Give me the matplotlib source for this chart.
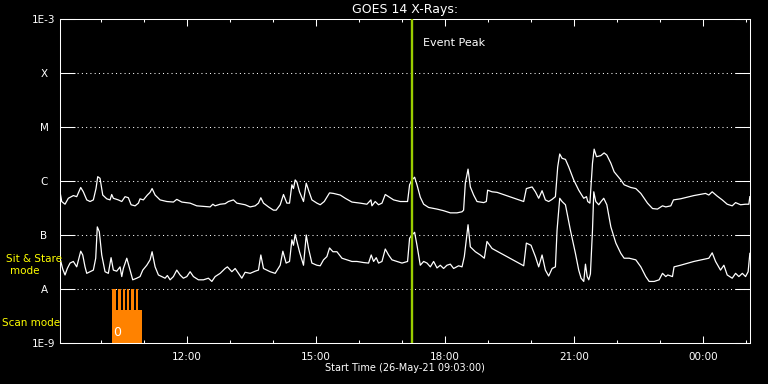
#!/usr/bin/env python3
import numpy as np
import pandas as pd
import matplotlib
matplotlib.use('Agg')
import matplotlib.pyplot as plt
import matplotlib.dates as mdates
from matplotlib.ticker import NullLocator

# * * * * * * * * * * * * * * * * * * * * * * * * * * * * * * * * * * * * * * *

start      =    pd.Timestamp('2021-05-26 09:03:00')
end_min    =    962        # [min] after start
peak_time  =    pd.Timestamp('2021-05-26 17:14:00')

# Data
# ~~~~~~~~~~~~~~~~~~~~~~
#- long channel: minutes after start, log10 flux [W/m^2]
t_long = [
    0, 2.4, 7.0, 11.6, 18.6, 23.3, 28.9, 32.5, 37.3, 41.9,
    46.5, 50.2, 52.6, 55.8, 59.6, 65.2, 69.8, 72.1, 74.4, 81.3,
    86.1, 90.7, 95.3, 99.1, 104.7, 109.3, 111.6, 116.2, 121.8, 125.6,
    128.4, 132.6, 139.5, 148.9, 158.1, 162.8, 169.8, 181.4, 190.7, 209.3,
    213.1, 216.3, 223.3, 230.2, 234.8, 241.8, 246.6, 258.1, 265.1, 272.1,
    276.7, 280.0, 283.7, 290.7, 297.6, 301.4, 307.0, 311.6, 316.3, 320.0,
    323.3, 325.5, 327.9, 330.3, 333.9, 339.5, 343.3, 346.5, 351.2, 358.2,
    362.8, 368.4, 375.8, 381.3, 390.7, 397.7, 407.0, 418.6, 427.9, 433.5,
    434.9, 439.5, 444.1, 448.9, 453.5, 458.1, 465.1, 474.4, 484.6, 487.4,
    490.7, 494.4, 497.7, 502.3, 507.0, 513.9, 525.6, 534.8, 544.2, 553.5,
    560.5, 562.7, 565.1, 568.9, 572.1, 576.7, 581.4, 590.7, 594.4, 596.2,
    602.4, 609.3, 646.5, 650.2, 658.2, 662.8, 667.4, 672.1, 676.7, 681.3,
    686.1, 690.7, 693.9, 696.7, 700.0, 704.7, 709.3, 716.2, 723.2, 730.2,
    734.0, 735.8, 738.8, 742.4, 744.7, 748.0, 754.0, 758.6, 762.4, 768.0,
    772.6, 781.9, 786.5, 795.8, 802.8, 809.8, 819.1, 826.1, 833.0, 840.0,
    844.6, 851.6, 855.3, 865.1, 883.7, 900.0, 904.6, 909.3, 916.3, 923.3,
    930.2, 937.2, 941.9, 948.8, 955.8, 960.4, 961.8
]
log_long = [
    -6.20, -6.38, -6.43, -6.32, -6.27, -6.29, -6.12, -6.20, -6.35, -6.38,
    -6.35, -6.14, -5.92, -5.95, -6.26, -6.33, -6.35, -6.25, -6.32, -6.35,
    -6.38, -6.29, -6.31, -6.44, -6.46, -6.41, -6.33, -6.35, -6.26, -6.21,
    -6.14, -6.26, -6.35, -6.38, -6.39, -6.34, -6.39, -6.41, -6.46, -6.48,
    -6.43, -6.46, -6.43, -6.42, -6.38, -6.35, -6.41, -6.44, -6.48, -6.46,
    -6.41, -6.31, -6.41, -6.48, -6.54, -6.54, -6.44, -6.25, -6.41, -6.41,
    -6.07, -6.14, -5.98, -6.02, -6.20, -6.38, -6.04, -6.17, -6.35, -6.41,
    -6.44, -6.38, -6.22, -6.23, -6.26, -6.32, -6.39, -6.41, -6.43, -6.35,
    -6.46, -6.38, -6.44, -6.41, -6.25, -6.29, -6.35, -6.38, -6.38, -6.07,
    -5.98, -5.93, -6.07, -6.30, -6.43, -6.49, -6.52, -6.55, -6.59, -6.59,
    -6.57, -6.54, -6.04, -5.78, -6.11, -6.26, -6.38, -6.40, -6.38, -6.17,
    -6.20, -6.21, -6.38, -6.14, -6.11, -6.20, -6.32, -6.18, -6.35, -6.38,
    -6.34, -6.29, -5.74, -5.50, -5.58, -5.60, -5.74, -5.98, -6.17, -6.32,
    -6.29, -6.38, -6.41, -5.67, -5.41, -5.55, -5.53, -5.48, -5.52, -5.67,
    -5.83, -5.98, -6.07, -6.12, -6.14, -6.23, -6.41, -6.51, -6.52, -6.46,
    -6.48, -6.46, -6.35, -6.33, -6.27, -6.23, -6.26, -6.20, -6.28, -6.35,
    -6.43, -6.46, -6.40, -6.44, -6.43, -6.43, -6.29
]

#- short channel
t_short = [
    0, 3.8, 7.0, 10.2, 14.0, 18.6, 23.3, 28.9, 31.7, 34.9,
    37.3, 41.9, 46.5, 49.8, 52.0, 54.8, 58.2, 62.8, 67.4, 71.2,
    74.4, 79.1, 83.7, 86.1, 88.3, 93.1, 97.7, 101.4, 107.0, 111.6,
    115.4, 121.0, 125.6, 128.4, 132.6, 137.2, 141.9, 146.5, 149.7, 153.5,
    158.1, 162.8, 167.4, 172.0, 176.8, 181.4, 186.0, 193.0, 200.0, 206.9,
    211.7, 216.3, 223.3, 230.2, 233.4, 239.6, 244.2, 248.8, 253.5, 258.1,
    265.1, 272.1, 276.7, 280.0, 283.7, 288.4, 293.0, 300.0, 307.0, 310.7,
    315.3, 320.0, 323.3, 325.5, 327.9, 330.3, 333.9, 339.5, 343.3, 346.5,
    351.2, 358.2, 362.8, 367.4, 372.1, 375.8, 380.5, 386.1, 393.1, 400.0,
    407.0, 414.0, 423.2, 430.2, 433.9, 437.2, 440.9, 444.1, 448.9, 453.5,
    458.1, 462.8, 469.8, 476.8, 484.6, 487.4, 490.7, 494.4, 497.7, 502.3,
    507.0, 511.7, 516.3, 520.9, 525.6, 530.2, 534.8, 539.5, 544.2, 548.8,
    555.8, 560.5, 563.7, 566.5, 568.9, 572.1, 579.1, 586.0, 591.6, 595.3,
    602.4, 646.5, 650.2, 656.7, 662.8, 667.4, 672.1, 676.7, 681.3, 686.1,
    690.7, 693.0, 696.7, 700.0, 704.7, 711.6, 718.6, 723.2, 726.5, 730.2,
    732.6, 735.0, 737.2, 739.5, 742.4, 744.2, 747.0, 751.1, 754.4, 758.1,
    762.4, 768.0, 775.0, 781.9, 786.5, 793.5, 802.8, 809.8, 816.7, 821.4,
    828.4, 835.3, 840.0, 844.6, 847.4, 853.9, 856.1, 865.1, 883.7, 904.6,
    909.3, 914.0, 920.9, 925.6, 930.2, 937.2, 941.9, 946.5, 951.3, 955.8,
    959.4, 961.8
]
log_short = [
    -7.43, -7.63, -7.74, -7.62, -7.52, -7.49, -7.59, -7.30, -7.37, -7.59,
    -7.71, -7.68, -7.65, -7.43, -6.85, -6.94, -7.37, -7.68, -7.71, -7.42,
    -7.65, -7.67, -7.59, -7.77, -7.62, -7.43, -7.65, -7.83, -7.80, -7.77,
    -7.65, -7.56, -7.46, -7.31, -7.59, -7.74, -7.77, -7.80, -7.75, -7.83,
    -7.77, -7.65, -7.74, -7.80, -7.77, -7.68, -7.77, -7.83, -7.83, -7.80,
    -7.86, -7.77, -7.71, -7.62, -7.59, -7.68, -7.62, -7.71, -7.80, -7.69,
    -7.71, -7.67, -7.65, -7.37, -7.62, -7.65, -7.68, -7.71, -7.56, -7.30,
    -7.52, -7.49, -7.09, -7.19, -6.99, -7.12, -7.31, -7.56, -7.00, -7.25,
    -7.52, -7.56, -7.57, -7.46, -7.40, -7.24, -7.31, -7.31, -7.43, -7.46,
    -7.49, -7.49, -7.51, -7.52, -7.37, -7.49, -7.42, -7.52, -7.49, -7.26,
    -7.37, -7.46, -7.49, -7.52, -7.49, -7.06, -7.00, -6.95, -7.19, -7.56,
    -7.49, -7.52, -7.59, -7.49, -7.61, -7.56, -7.62, -7.56, -7.54, -7.62,
    -7.57, -7.59, -7.40, -7.09, -6.81, -7.22, -7.31, -7.37, -7.43, -7.12,
    -7.25, -7.57, -7.15, -7.19, -7.40, -7.59, -7.37, -7.65, -7.76, -7.62,
    -7.59, -6.91, -6.32, -6.38, -6.44, -6.91, -7.34, -7.65, -7.80, -7.86,
    -7.54, -7.77, -7.83, -7.72, -6.91, -6.20, -6.38, -6.44, -6.38, -6.32,
    -6.44, -6.85, -7.15, -7.34, -7.43, -7.43, -7.46, -7.59, -7.77, -7.86,
    -7.86, -7.83, -7.71, -7.77, -7.74, -7.77, -7.59, -7.56, -7.49, -7.43,
    -7.33, -7.49, -7.65, -7.56, -7.74, -7.80, -7.71, -7.77, -7.71, -7.77,
    -7.68, -7.34
]

#- scan mode (minutes after start)
scan_block   = [72.6, 114.4]
scan_stripes = [
    [72.6, 77.7], [81.3, 84.7], [87.5, 90.7],
    [93.5, 96.7], [99.5, 102.8], [105.6, 109.3]
]

#- y axis classes
class_levels = [1e-9, 1e-8, 1e-7, 1e-6, 1e-5, 1e-4, 1e-3]
class_labels = ['1E-9', 'A', 'B', 'C', 'M', 'X', '1E-3']

# * * * * * * * * * * * * * * * * * * * * * * * * * * * * * * * * * * * * * * *

def to_time(minutes):
    return start + pd.to_timedelta(np.asarray(minutes, dtype=float), unit='min')

orange = '#ff8200'
yellow = '#ffff00'

fig = plt.figure(figsize = (7.68, 3.84), dpi = 100, facecolor = 'black')
ax = fig.add_axes([60/768, 41/384, 690/768, 324/384])
ax.set_facecolor('black')

#- Grid lines
for lv in class_levels[1:-1]:
    ax.axhline(lv, color = 'white', linewidth = 0.75, linestyle = (0, (1, 3.1)), zorder = 1)

#- Scan mode bars
t0 = to_time([scan_block[0]])[0]
t1 = to_time([scan_block[1]])[0]
ax.axvspan(t0, t1, ymin = 0, ymax = 0.102, color = orange, lw = 0, zorder = 2)
for s in scan_stripes:
    a, b = to_time(s)
    ax.axvspan(a, b, ymin = 0, ymax = 1/6, color = orange, lw = 0, zorder = 2)
ax.text(to_time([79.1])[0], 10**-8.80, '0', color = 'white', fontsize = 9,
        ha = 'center', va = 'center', zorder = 3)

#- Curves
ax.plot(to_time(t_long), 10**np.array(log_long), color = 'white', linewidth = 0.9, zorder = 4)
ax.plot(to_time(t_short), 10**np.array(log_short), color = 'white', linewidth = 0.9, zorder = 4)

#- Event peak
ax.axvline(peak_time, color = '#9acd00', linewidth = 1.7, zorder = 5)

ax.set_yscale('log')
ax.set_ylim(1e-9, 1e-3)
ax.set_xlim(start, to_time([end_min])[0])

ax.set_yticks(class_levels, class_labels)
ax.yaxis.set_minor_locator(NullLocator())
for lbl in ax.get_yticklabels():
    lbl.set_horizontalalignment('center')
ax.tick_params(axis = 'y', which = 'major', direction = 'in', length = 10.8, width = 0.75,
               left = True, right = True, colors = 'white', labelsize = 7.5, pad = 11.5)

ax.xaxis.set_major_locator(mdates.HourLocator(byhour = range(0, 24, 3)))
ax.xaxis.set_minor_locator(mdates.HourLocator())
ax.xaxis.set_major_formatter(mdates.DateFormatter('%H:%M'))
ax.tick_params(axis = 'x', which = 'major', direction = 'in', length = 4.7, width = 0.75,
               top = True, bottom = True, colors = 'white', labelsize = 7.5, pad = 6.3)
ax.tick_params(axis = 'x', which = 'minor', direction = 'in', length = 2.5, width = 0.75,
               top = True, bottom = True, colors = 'white')

for sp in ax.spines.values():
    sp.set_color('white')
    sp.set_linewidth(0.75)

#- Texts
fig.text(405/768, 1 - 9.5/384, 'GOES 14 X-Rays:', color = 'white', fontsize = 9,
         ha = 'center', va = 'center')
fig.text(423/768, 1 - 42.5/384, 'Event Peak', color = 'white', fontsize = 8,
         ha = 'left', va = 'center')
fig.text(405/768, 1 - 368/384, 'Start Time (26-May-21 09:03:00)', color = 'white',
         fontsize = 7, ha = 'center', va = 'center')
fig.text(34/768, 1 - 258.7/384, 'Sit & Stare', color = yellow, fontsize = 7.5,
         ha = 'center', va = 'center')
fig.text(24.3/768, 1 - 271/384, 'mode', color = yellow, fontsize = 7.5,
         ha = 'center', va = 'center')
fig.text(1.7/768, 1 - 323.5/384, 'Scan mode', color = yellow, fontsize = 7.5,
         ha = 'left', va = 'center')

fig.savefig('out.png', dpi = 100, facecolor = 'black')
